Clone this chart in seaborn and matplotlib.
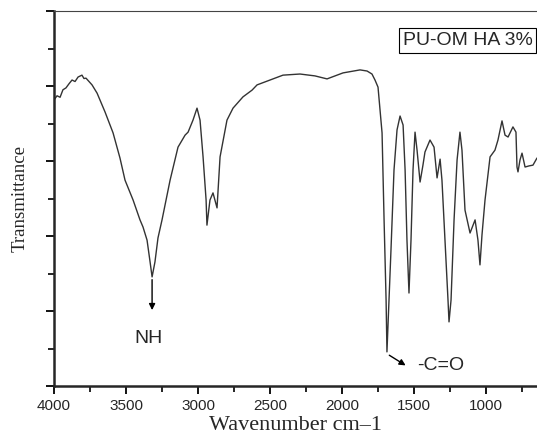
import numpy as np
import pandas as pd
import matplotlib
matplotlib.use("Agg")
import matplotlib.pyplot as plt
import seaborn as sns
from matplotlib.ticker import MultipleLocator

# FTIR spectrum of PU-OM HA 3%
wavenumber = [4000, 3979, 3958, 3938, 3917, 3896, 3875, 3854, 3833, 3806, 3792, 3778,
              3736, 3701, 3646, 3590, 3542, 3507, 3451, 3403, 3382, 3354, 3333, 3319,
              3299, 3278, 3250, 3194, 3139, 3090, 3069, 3035, 3007, 2986, 2965, 2944,
              2938, 2917, 2896, 2868, 2847, 2799, 2757, 2688, 2625, 2590, 2500, 2410,
              2292, 2188, 2104, 1993, 1875, 1826, 1792, 1771, 1750, 1736, 1722, 1708,
              1694, 1688, 1660, 1639, 1618, 1597, 1576, 1562, 1549, 1535, 1521, 1507,
              1493, 1479, 1458, 1438, 1424, 1389, 1361, 1340, 1319, 1306, 1285, 1264,
              1257, 1243, 1222, 1201, 1181, 1167, 1146, 1111, 1076, 1056, 1042, 1028,
              1007, 972, 938, 917, 889, 868, 847, 813, 792, 785, 778, 764, 750, 729,
              701, 674, 646]
transmittance = [76.3, 77.4, 77.0, 79.0, 79.5, 80.6, 81.6, 81.2, 82.4, 82.9, 82.0, 82.1,
                 80.3, 78.1, 73.1, 67.5, 60.8, 54.9, 49.6, 44.3, 42.4, 38.9, 33.1, 29.1,
                 33.1, 39.5, 44.3, 54.9, 63.7, 66.9, 67.7, 70.9, 74.1, 70.9, 61.1, 49.6,
                 42.9, 49.6, 51.5, 47.5, 61.1, 70.9, 74.1, 77.1, 78.9, 80.3, 81.6, 82.9,
                 83.2, 82.7, 81.9, 83.5, 84.3, 84.0, 83.2, 81.6, 79.7, 73.6, 67.5, 44.3,
                 22.9, 9.1, 36.3, 57.6, 68.3, 72.0, 69.6, 57.6, 38.9, 24.8, 38.9, 57.6,
                 67.7, 62.9, 54.4, 58.9, 62.4, 65.6, 63.7, 55.5, 60.5, 54.9, 38.9, 22.9,
                 17.1, 22.9, 44.3, 60.3, 67.7, 62.9, 46.9, 40.8, 44.3, 38.9, 32.3, 40.3,
                 49.6, 61.1, 62.9, 65.6, 70.7, 66.9, 66.4, 69.1, 67.7, 58.4, 57.1, 60.3,
                 62.1, 58.4, 58.7, 58.9, 60.8]

sample_label = "PU-OM HA 3%"

df = pd.DataFrame({"Wavenumber": wavenumber, "Transmittance": transmittance})

sns.set_style("ticks")
plt.rcParams["font.family"] = ["Liberation Sans", "DejaVu Sans"]

fig = plt.figure(figsize=(5.37, 4.41), dpi=100)
ax = fig.add_axes([0.1006, 0.1247, 0.8994, 0.8503])

sns.lineplot(data=df, x="Wavenumber", y="Transmittance", sort=False,
             color="#333333", linewidth=1.0, ax=ax)

ax.set_xlim(4000, 646)
ax.set_ylim(0, 100)
ax.xaxis.set_major_locator(MultipleLocator(500))
ax.xaxis.set_minor_locator(MultipleLocator(250))
ax.yaxis.set_major_locator(MultipleLocator(20))
ax.yaxis.set_minor_locator(MultipleLocator(10))
ax.tick_params(axis="both", which="major", direction="out", length=6, width=1.3,
               labelsize=11, color="black")
ax.tick_params(axis="both", which="minor", direction="out", length=4, width=1.2,
               color="black")
ax.tick_params(axis="y", labelleft=False)

ax.spines["right"].set_visible(False)
ax.spines["top"].set_linewidth(0.8)
ax.spines["top"].set_color("#444444")
ax.spines["left"].set_linewidth(1.8)
ax.spines["bottom"].set_linewidth(1.8)

ax.set_xlabel("Wavenumber cm\u20131", fontsize=16, family="Liberation Serif", labelpad=2)
ax.set_ylabel("Transmittance", fontsize=13.5, family="Liberation Serif", labelpad=11)

# peak annotations
ax.annotate("", xy=(3319, 19.5), xytext=(3319, 29.1),
            arrowprops=dict(arrowstyle="-|>", color="black", lw=1.0, mutation_scale=9))
ax.text(3347, 12.8, "NH", fontsize=14, ha="center", va="center")
ax.annotate("", xy=(1542, 5.1), xytext=(1688, 8.6),
            arrowprops=dict(arrowstyle="-|>", color="black", lw=1.0, mutation_scale=9))
ax.text(1479, 5.6, "-C=O", fontsize=14, ha="left", va="center")

ax.text(0.722, 0.921, sample_label, transform=ax.transAxes, fontsize=14,
        ha="left", va="center",
        bbox=dict(boxstyle="square,pad=0.2", facecolor="white", edgecolor="black", linewidth=0.8))

fig.savefig("out.png", dpi=100)
